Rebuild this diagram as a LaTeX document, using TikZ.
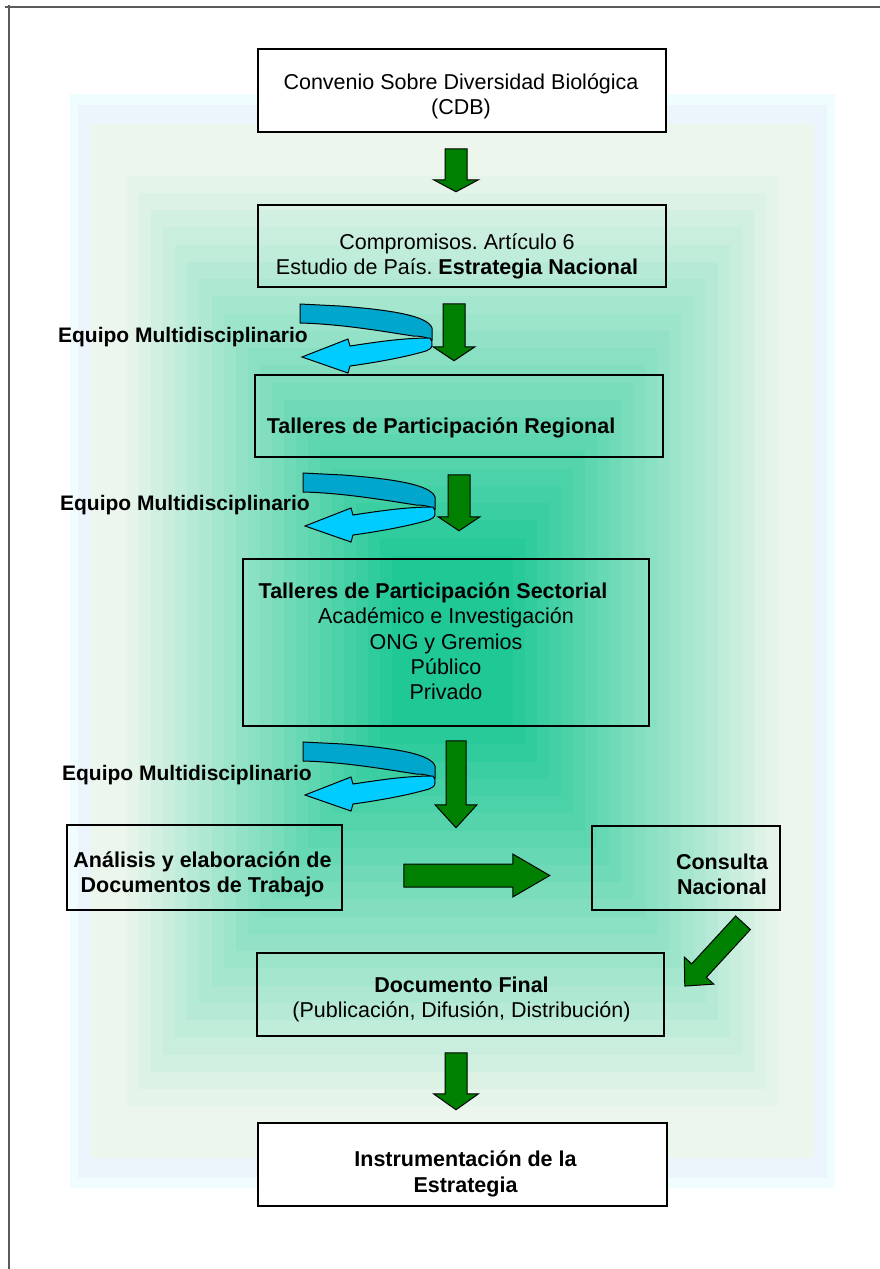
\documentclass[tikz,border=0pt]{standalone}
\usepackage{fontspec}
\setmainfont{Liberation Sans}
\usepackage{tikz}
\usetikzlibrary{calc}
\frenchspacing

\definecolor{bgedge}{RGB}{240,253,255}
\definecolor{bgblue}{RGB}{236,245,252}
\definecolor{bgpale}{RGB}{236,246,236}
\definecolor{bgcore}{RGB}{32,200,150}
\definecolor{turndark}{RGB}{0,166,204}
\definecolor{turnlight}{RGB}{0,204,255}
\definecolor{gdark}{RGB}{0,128,0}
\definecolor{framegray}{RGB}{90,90,90}

\tikzset{
  box/.style={draw=black, line width=1.5pt, inner sep=0pt},
  whitebox/.style={box, fill=white},
  boxtxt/.style={align=center, inner sep=0pt, font=\fontsize{21.5}{25.3}\selectfont},
  boldtxt/.style={boxtxt, font=\fontsize{21.5}{25.3}\selectfont\bfseries},
  garrow/.style={fill=gdark, draw=black, line width=1pt, line join=miter},
  turndk/.style={fill=turndark, draw=black, line width=1pt},
  turnlt/.style={fill=turnlight, draw=black, line width=1pt},
  teamlbl/.style={font=\fontsize{21}{25}\selectfont\bfseries, inner sep=0pt, anchor=east},
  frameline/.style={draw=framegray, line width=1.5pt},
  pics/blockarrow/.style args={#1/#2/#3/#4}{code={
    \filldraw[garrow] (0,-#2) -- (#1-#4,-#2) -- (#1-#4,-#3) -- (#1,0)
      -- (#1-#4,#3) -- (#1-#4,#2) -- (0,#2) -- cycle;
  }},
  pics/uturn/.style={code={
    \filldraw[turndk] (-132,-34) -- (-92,-32) .. controls (-40,-28) and (-4,-22) .. (0,-10)
      -- (0,2) .. controls (-6,-1) and (-12,-2) .. (-19,-2)
      .. controls (-45,-6) and (-90,-14) .. (-132,-15) -- cycle;
    \filldraw[turnlt] (-2,0) .. controls (0,2) and (0,4) .. (0,7)
      .. controls (0,10) and (-3,12) .. (-6,13)
      .. controls (-30,20) and (-60,25) .. (-82,28) -- (-84,35) -- (-130,19)
      -- (-84,1) -- (-82,8) .. controls (-55,4) and (-30,0) .. (-2,0) -- cycle;
  }}
}

\begin{document}
\begin{tikzpicture}[x=1pt, y=-1pt]
\useasboundingbox (0,0) rectangle (880,1269);

% background, nested rectangles
\fill[bgedge] (70,94) rectangle (835,1188);
\fill[bgblue] (78,105) rectangle (827,1178);
\foreach \i in {0,...,29} {
  \pgfmathsetmacro\hw{361.5*(1-\i/30)}
  \pgfmathsetmacro\hh{\hw*1.43}
  \pgfmathsetmacro\pc{max(0,min(100,((1-\hw/382.5)-0.12)/0.72*100))}
  \fill[bgcore!\pc!bgpale] (452.5-\hw,641-\hh) rectangle (452.5+\hw,641+\hh);
}

\draw[frameline] (5,7) -- (880,7);
\draw[frameline] (9,5) -- (9,1269);

% boxes
\node[whitebox, minimum width=408, minimum height=83] (conv) at (462,90.5) {};
\node[box, minimum width=408, minimum height=82] (comp) at (462,246) {};
\node[box, minimum width=408, minimum height=82] (reg) at (459,416) {};
\node[box, minimum width=406, minimum height=167] (sect) at (446,642.5) {};
\node[box, minimum width=275, minimum height=85] (anal) at (204.5,867.5) {};
\node[box, minimum width=188, minimum height=84] (cons) at (686,868) {};
\node[box, minimum width=407, minimum height=83] (docf) at (460.5,994.5) {};
\node[whitebox, minimum width=409, minimum height=83] (inst) at (462.5,1164.5) {};

% box texts
\node[boxtxt] (convtxt) at ($(conv.center)+(-1,6)$) {Convenio Sobre Diversidad Biológica\\(CDB)};
\node[boxtxt] (comptxt) at ($(comp.center)+(-5,10.5)$) {Compromisos. Artículo 6\\Estudio de País. \textbf{Estrategia Nacional}};
\node[boldtxt] (regtxt) at ($(reg.center)+(-18,12)$) {Talleres de Participación Regional};
\node[boxtxt] (secttxt) at ($(sect.center)+(0,-1)$)
  {\textbf{Talleres de Participación Sectorial}\hspace*{26pt}\\Académico e Investigación\\ONG y Gremios\\Público\\Privado};
\node[boldtxt] (analtxt) at ($(anal.center)+(-2,7)$) {Análisis y elaboración de\\Documentos de Trabajo};
\node[boldtxt] (constxt) at ($(cons.center)+(36,6)$) {Consulta\\Nacional};
\node[boxtxt] (docftxt) at ($(docf.center)+(1,5)$) {\textbf{Documento Final}\\(Publicación, Difusión, Distribución)};
\node[boldtxt] (insttxt) at ($(inst.center)+(3,9.5)$) {Instrumentación de la\\Estrategia};

% green arrows
\pic[rotate=-90] (a1) at ($(conv.south)+(-6,16)$) {blockarrow=43/11/22.5/12};
\pic[rotate=-90] (a2) at ($(comp.south)+(-8,16)$) {blockarrow=57/11/21/14};
\pic[rotate=-90] (a3) at ($(reg.south)+(0,17)$) {blockarrow=56/11/21/14};
\pic[rotate=-90] (a4) at ($(sect.south)+(10,14)$) {blockarrow=87/10/21/23};
\pic (a5) at ($(anal.east)+(61,8)$) {blockarrow=146/11.5/21.5/37};
\pic[rotate=-132.6] (a6) at ($(cons.south)+(57,12)$) {blockarrow=86/10/20/21};
\pic[rotate=-90] (a7) at ($(docf.south)+(-4.5,16)$) {blockarrow=57/11/22.5/16};

% team loops
\coordinate (fold1) at (432,338);
\coordinate (fold2) at (435,507);
\coordinate (fold3) at (435,776);
\pic (turn1) at (fold1) {uturn};
\pic (turn2) at (fold2) {uturn};
\pic (turn3) at (fold3) {uturn};
\node[teamlbl] (team1) at ($(fold1)+(-124,-1)$) {Equipo Multidisciplinario};
\node[teamlbl] (team2) at ($(fold2)+(-125,-2)$) {Equipo Multidisciplinario};
\node[teamlbl] (team3) at ($(fold3)+(-123,-1)$) {Equipo Multidisciplinario};
\end{tikzpicture}
\end{document}
